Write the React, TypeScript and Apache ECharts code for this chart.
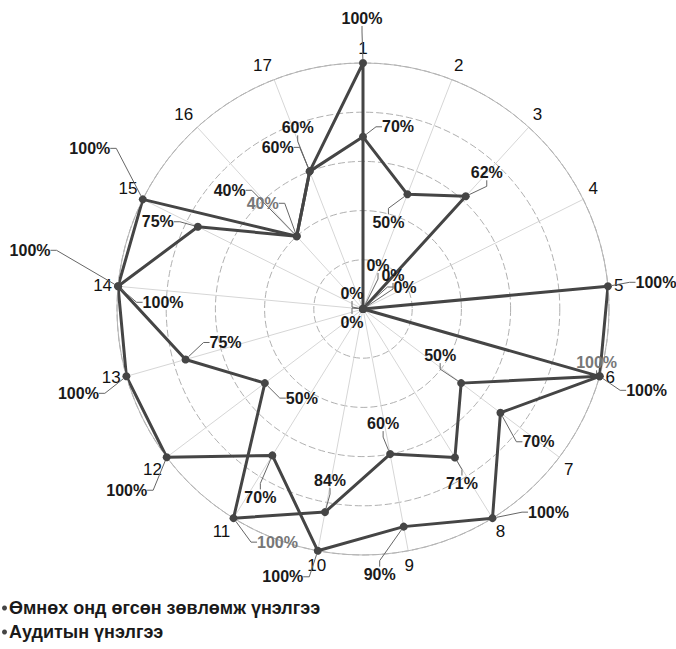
import React, { useEffect, useRef } from "react";
import * as echarts from "echarts";

const indicators = ["1", "2", "3", "4", "5", "6", "7", "8", "9", "10", "11", "12", "13", "14", "15", "16", "17"];
const seriesNames = ["Өмнөх онд өгсөн зөвлөмж үнэлгээ", "Аудитын үнэлгээ"];
const valuesA = [100, 0, 0, 0, 100, 100, 70, 100, 90, 100, 70, 100, 100, 100, 100, 40, 60];
const valuesB = [70, 50, 62, 0, 0, 100, 50, 71, 60, 84, 100, 50, 75, 100, 75, 40, 60];

// label offsets (px) from each point
const offsetsA = [[-1, -45], [15, -44], [30, -34], [42, -22], [48, -4], [47, 14], [38, 29], [56, -6], [-24, 48], [-35, 26], [-12, 42], [-40, 33], [-48, 17], [-88, -36], [-53, -51], [-67, -46], [-12, -44]];
const offsetsB = [[35, -10], [-19, 28], [21, -24], [-11, -16], [-11, 13], [-3, -14], [-21, -28], [7, 26], [-7, -31], [5, -32], [44, 24], [37, 15], [40, -17], [45, 16], [-40, -5], [-34, -33], [-32, -24]];
const grayLabelsB = [5, 10, 15];

const FONT = "'Liberation Sans', Arial, sans-serif";

function buildData(values: number[], gray: number[]) {
  const d: any[] = values.map((v, i) => ({
    value: [v, i],
    label: { color: gray.includes(i) ? "#777" : "#1a1a1a" },
  }));
  d.push({ value: [values[0], indicators.length], label: { show: false }, symbol: "none" });
  return d;
}

export default function App() {
  const ref = useRef<HTMLDivElement>(null);
  useEffect(() => {
    document.body.style.margin = "0";
    const chart = echarts.init(ref.current!, undefined, { renderer: "svg" });
    const mkSeries = (name: string, values: number[], offsets: number[][], gray: number[]) => ({
      name,
      type: "line",
      coordinateSystem: "polar",
      clip: false,
      data: buildData(values, gray),
      symbol: "circle",
      symbolSize: 8,
      showAllSymbol: true,
      lineStyle: { color: "#454545", width: 3 },
      itemStyle: { color: "#454545" },
      label: {
        show: true,
        position: "inside",
        formatter: (p: any) => p.value[0] + "%",
        fontFamily: FONT,
        fontWeight: "bold",
        fontSize: 16,
        color: "#1a1a1a",
      },
      labelLayout: (p: any) => {
        const o = offsets[p.dataIndex] || [0, 0];
        return { dx: o[0], dy: o[1] };
      },
      labelLine: { show: true, length2: 6, lineStyle: { color: "#666", width: 1 } },
    });
    const legendText = { fontFamily: FONT, fontWeight: "bold", fontSize: 18, color: "#1a1a1a", padding: [0, 0, 0, -3] };
    chart.setOption({
      animation: false,
      backgroundColor: "#fff",
      polar: { center: [363, 309], radius: 246 },
      angleAxis: {
        type: "value",
        min: 0,
        max: indicators.length,
        interval: 1,
        startAngle: 90,
        clockwise: true,
        axisLine: { show: true, lineStyle: { color: "#b5b5b5", width: 1 } },
        axisTick: { show: false },
        splitLine: { show: true, lineStyle: { color: "#d6d6d6", width: 1 } },
        axisLabel: {
          formatter: (v: number) => indicators[v] ?? "",
          margin: 6,
          fontSize: 17,
          fontFamily: FONT,
          color: "#111",
        },
      },
      radiusAxis: {
        min: 0,
        max: 100,
        interval: 20,
        axisLine: { show: false },
        axisTick: { show: false },
        axisLabel: { show: false },
        splitLine: { show: true, lineStyle: { color: "#b0b0b0", width: 1, type: [7, 3] } },
      },
      legend: [
        {
          orient: "vertical",
          left: 2,
          top: 599,
          padding: 0,
          icon: "circle",
          itemWidth: 5,
          itemHeight: 5,
          data: [seriesNames[0]],
          textStyle: legendText,
        },
        {
          orient: "vertical",
          left: 2,
          top: 623,
          padding: 0,
          icon: "circle",
          itemWidth: 5,
          itemHeight: 5,
          data: [seriesNames[1]],
          textStyle: legendText,
        },
      ],
      series: [
        mkSeries(seriesNames[0], valuesA, offsetsA, []),
        mkSeries(seriesNames[1], valuesB, offsetsB, grayLabelsB),
      ],
    });
    return () => chart.dispose();
  }, []);
  return <div ref={ref} style={{ width: 676, height: 649 }} />;
}
